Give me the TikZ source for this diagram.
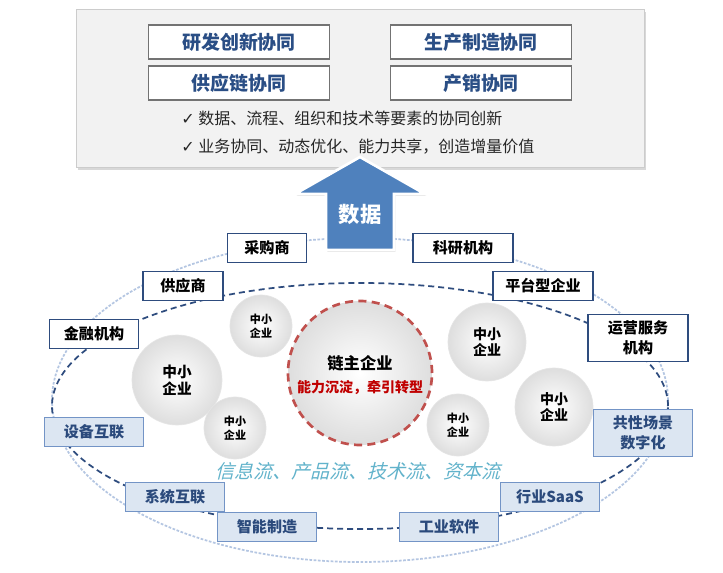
\documentclass[tikz,border=0pt]{standalone}
\usepackage{fontspec}
\setmainfont{Noto Sans CJK SC}
\newfontfamily\checkfont{DejaVu Sans}
\newfontfamily\slantcjk[FakeSlant=0.25]{Noto Sans CJK SC}
\usetikzlibrary{shadows}
\definecolor{topblue}{HTML}{2A4E85}
\definecolor{navy}{HTML}{2E4C7E}
\definecolor{lightfill}{HTML}{DCE6F2}
\definecolor{lightdraw}{HTML}{7394C6}
\definecolor{lighttext}{HTML}{2B4A7C}
\definecolor{ringdash}{HTML}{B4C6E2}
\definecolor{arrowblue}{HTML}{4F81BD}
\definecolor{chainred}{HTML}{C0504D}
\definecolor{textred}{HTML}{C00000}
\definecolor{flowteal}{HTML}{62B3CB}

\begin{document}
\begin{tikzpicture}[x=0.75pt,y=-0.75pt,
  panel/.style={draw=black!20,fill=black!5,line width=0.6pt,drop shadow={shadow xshift=1.5pt,shadow yshift=-2.5pt,opacity=0.3}},
  topbox/.style={draw=black!55,fill=white,line width=0.9pt,minimum width=136pt,minimum height=25.5pt,inner sep=0pt,text=topblue,font=\fontsize{14.2}{16}\selectfont\bfseries},
  bullet/.style={anchor=west,inner sep=0pt,text=black!85,font=\fontsize{12}{14}\selectfont},
  whitebox/.style={draw=navy,fill=white,line width=1.1pt,minimum height=22pt,inner sep=0pt,align=center,font=\fontsize{11.3}{15}\selectfont\bfseries},
  lightbox/.style={draw=lightdraw,fill=lightfill,line width=1pt,minimum width=74pt,minimum height=22pt,inner sep=0pt,align=center,text=lighttext,font=\fontsize{11.3}{15}\selectfont\bfseries},
  sme/.style={circle,draw=black!10,line width=0.5pt,shade,inner color=white,outer color=black!13,inner sep=0pt,align=center,font=\bfseries},
  innerring/.style={draw=navy,line width=1.3pt,dash pattern=on 4.5pt off 3pt},
  outerring/.style={draw=ringdash,line width=1.3pt,dash pattern=on 2pt off 1.2pt}]
\useasboundingbox (0,0) rectangle (723,573);
\fill[white] (0,0) rectangle (723,573);
\draw[panel] (76,9) rectangle (644,167);
\node[topbox] (rd) at (239,42) {研发创新协同};
\node[topbox] (prod) at (481,42) {生产制造协同};
\node[topbox] (supply) at (239,83) {供应链协同};
\node[topbox] (sales) at (481,83) {产销协同};
\node[bullet] (line1) at (181,118) {{\checkfont ✓} 数据、流程、组织和技术等要素的协同创新};
\node[bullet] (line2) at (181,147) {{\checkfont ✓} 业务协同、动态优化、能力共享，创造增量价值};
\draw[outerring] (360,400) ellipse [x radius=231pt,y radius=121.5pt];
\draw[innerring] (360,406) ellipse [x radius=231pt,y radius=92.25pt];
\path[draw=white,line width=2pt,fill=arrowblue,drop shadow={shadow xshift=1pt,shadow yshift=-1.5pt,opacity=0.25}] (360,157) -- (425,194) -- (394,194) -- (394,250) -- (326,250) -- (326,194) -- (295,194) -- cycle;
\node[text=white,font=\fontsize{16}{18}\selectfont\bfseries] (data) at (360,214) {数据};
\node[sme,minimum size=67.5pt,font=\fontsize{11}{13}\selectfont\bfseries] (sme1) at (177,380) {中小\\企业};
\node[sme,minimum size=46.5pt,font=\fontsize{8.3}{10}\selectfont\bfseries] (sme2) at (261,326) {中小\\企业};
\node[sme,minimum size=46.5pt,font=\fontsize{8.3}{10}\selectfont\bfseries] (sme3) at (235,428) {中小\\企业};
\node[sme,minimum size=58.5pt,font=\fontsize{10.5}{12.5}\selectfont\bfseries] (sme4) at (487,342) {中小\\企业};
\node[sme,minimum size=46.5pt,font=\fontsize{8.3}{10}\selectfont\bfseries] (sme5) at (458,425) {中小\\企业};
\node[sme,minimum size=58.5pt,font=\fontsize{10.5}{12.5}\selectfont\bfseries] (sme6) at (554,407) {中小\\企业};
\node[sme,minimum size=108pt,draw=chainred,line width=2pt,dash pattern=on 6pt off 4pt] (chain) at (360,373) {};
\node[font=\fontsize{12.2}{14}\selectfont\bfseries] (chainname) at (360,363) {链主企业};
\node[text=textred,font=\fontsize{10.5}{12}\selectfont\bfseries] (chainrole) at (360,388) {能力沉淀，牵引转型};
\node[text=flowteal,font=\slantcjk\fontsize{14.3}{16}\selectfont] (flow) at (358,471) {信息流、产品流、技术流、资本流};
\node[whitebox,minimum width=59pt] (buyer) at (267,248) {采购商};
\node[whitebox,minimum width=75pt] (research) at (463,248) {科研机构};
\node[whitebox,minimum width=60pt] (vendor) at (183,286) {供应商};
\node[whitebox,minimum width=75pt] (platform) at (543,286) {平台型企业};
\node[whitebox,minimum width=67pt] (finance) at (94,334) {金融机构};
\node[whitebox,minimum width=75pt,minimum height=35pt] (operation) at (638,338) {运营服务\\机构};
\node[lightbox] (device) at (94,432) {设备互联};
\node[lightbox,minimum height=35pt] (scene) at (643,433) {共性场景\\数字化};
\node[lightbox] (system) at (175,497) {系统互联};
\node[lightbox] (saas) at (550,497) {行业SaaS};
\node[lightbox] (smart) at (267,527) {智能制造};
\node[lightbox] (software) at (449,527) {工业软件};
\end{tikzpicture}
\end{document}
